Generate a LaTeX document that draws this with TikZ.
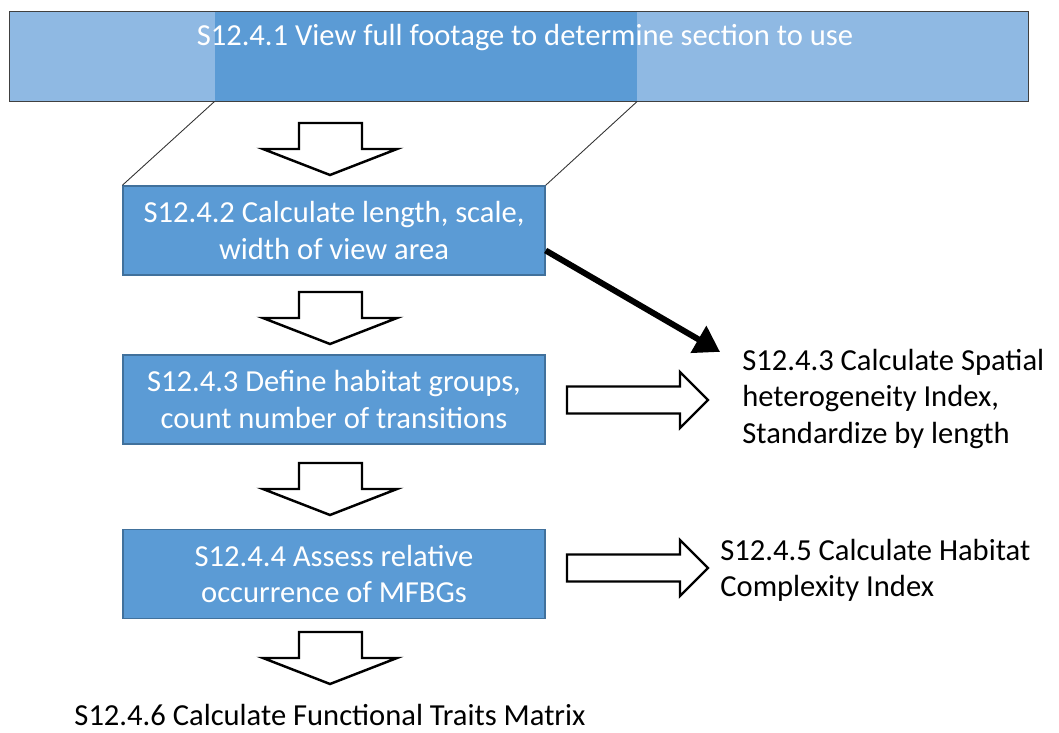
\documentclass[tikz,border=0pt]{standalone}
\usepackage{fontspec}
\setmainfont{Carlito}
\usetikzlibrary{arrows.meta,positioning}
\definecolor{boxblue}{HTML}{5B9BD5}
\definecolor{boxline}{HTML}{41719C}
\definecolor{paleblue}{HTML}{8FB9E3}

\begin{document}
\begin{tikzpicture}[x=0.02cm,y=-0.02cm,
stepbox/.style={rectangle, draw=boxline, fill=boxblue, line width=0.8pt, minimum width=8.44cm, minimum height=1.78cm, text=white, align=center, font=\fontsize{17.4}{20.5}\selectfont},
plaintext/.style={align=left, inner sep=0pt, font=\fontsize{17.4}{20.5}\selectfont},
hollowarrow/.style={draw=black, fill=white, line width=1.4pt, line join=miter},
]
\useasboundingbox (0,0) rectangle (1059,733);
%Nodes
\node[rectangle, fill=paleblue, minimum width=20.36cm, minimum height=1.78cm, inner sep=0pt] (viewbox) at (519,56.5) {};
\node[rectangle, fill=boxblue, minimum width=8.44cm, minimum height=1.78cm, inner sep=0pt] (viewband) at (426,56.5) {};
\draw[black!75, line width=0.6pt] (viewbox.south west) rectangle (viewbox.north east);
\node[plaintext, text=white] (viewtext) at (525,38) {S12.4.1 View full footage to determine section to use};

\node[stepbox] (calc) at (334,230.5) {S12.4.2 Calculate length, scale,\\width of view area};
\node[stepbox] (define) at (334,399.5) {S12.4.3 Define habitat groups,\\count number of transitions};
\node[stepbox] (assess) at (334,574) {S12.4.4 Assess relative\\occurrence of MFBGs};

\node[plaintext, anchor=west] (spatial) at (742,399) {S12.4.3 Calculate Spatial\\heterogeneity Index,\\Standardize by length};
\node[plaintext, anchor=west] (habitat) at (720,570) {S12.4.5 Calculate Habitat\\Complexity Index};
\node[plaintext] (traits) at (330,715) {S12.4.6 Calculate Functional Traits Matrix};

%Hollow arrows
\foreach \ytop in {123,292,463,632}
  \draw[hollowarrow] (299,\ytop) -- (362,\ytop) -- (362,\ytop+26) -- (397,\ytop+26)
    -- (330,\ytop+52) -- (263,\ytop+26) -- (299,\ytop+26) -- cycle;
\foreach \ymid in {400,568}
  \draw[hollowarrow] (567,\ymid-13.5) -- (680,\ymid-13.5) -- (680,\ymid-28) -- (708,\ymid)
    -- (680,\ymid+28) -- (680,\ymid+13.5) -- (567,\ymid+13.5) -- cycle;

%Lines
\draw[black!80, line width=0.5pt] (viewband.south west) -- (calc.north west);
\draw[black!80, line width=0.5pt] (viewband.south east) -- (calc.north east);
\draw[line width=3.4pt, -{Triangle[length=0.5cm,width=0.6cm]}] ([yshift=-0.4cm]calc.east) -- ([xshift=-0.44cm,yshift=-0.05cm]spatial.north west);
\end{tikzpicture}
\end{document}
